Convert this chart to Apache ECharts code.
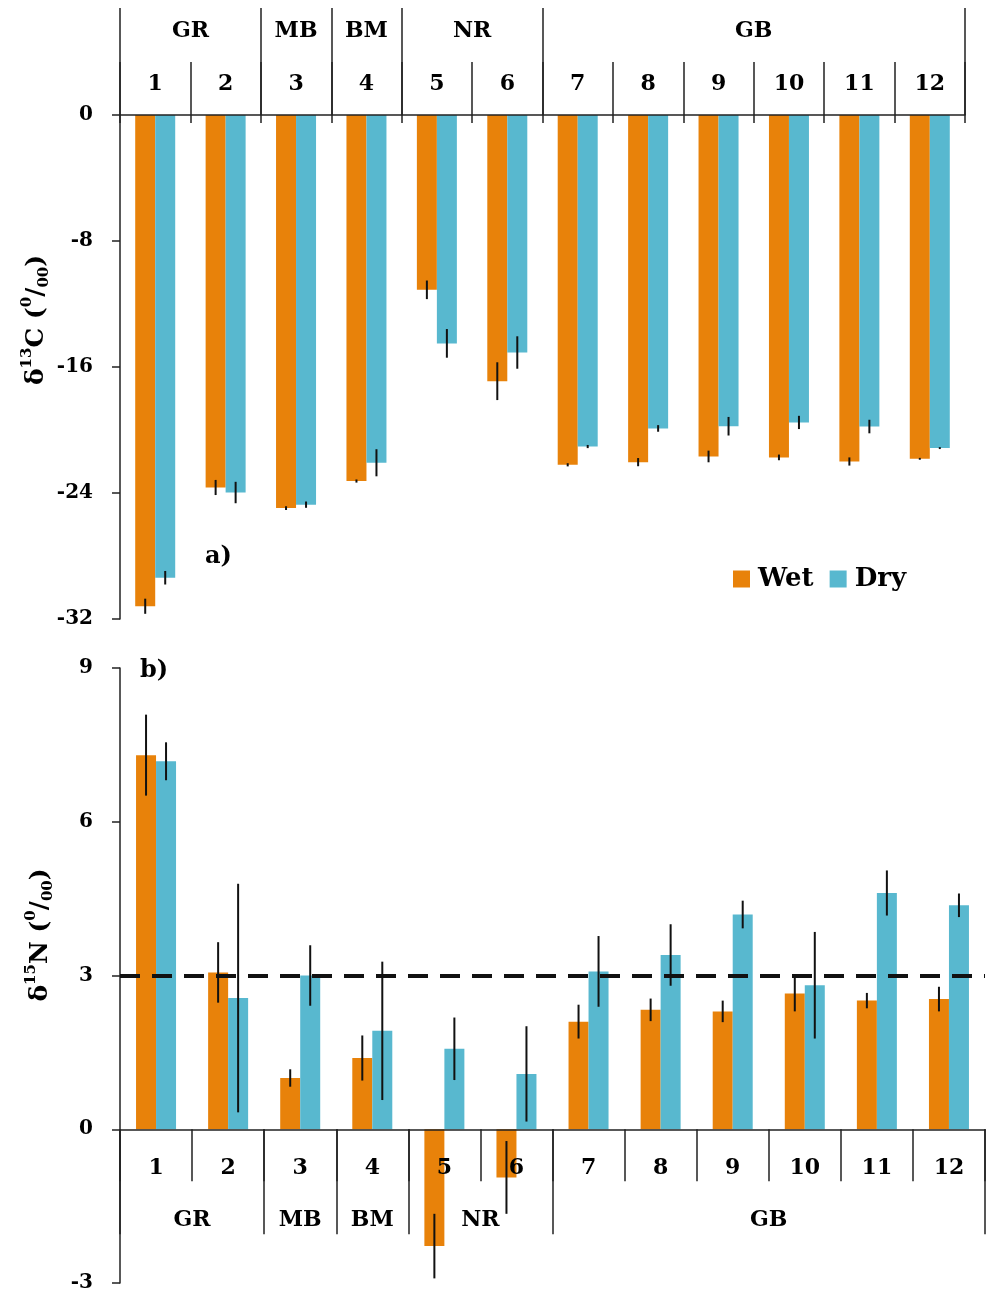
<!DOCTYPE html>
<html>
<head>
<meta charset="utf-8">
<script src="https://cdn.jsdelivr.net/npm/echarts@6/dist/echarts.min.js"></script>
<style>html,body{margin:0;padding:0;background:#fff}#c{width:993px;height:1299px}</style>
</head>
<body>
<div id="c"></div>
<script>
// ---- data ----
const sites = ['1','2','3','4','5','6','7','8','9','10','11','12'];
const groups = ['GR','MB','BM','NR','GB'];
const groupSpans = [2,1,1,2,6];

const c13Wet    = [-31.19,-23.65,-24.96,-23.24,-11.10,-16.90,-22.21,-22.04,-21.68,-21.74,-22.00,-21.83];
const c13WetErr = [0.48,0.48,0.12,0.10,0.59,1.20,0.10,0.26,0.37,0.18,0.26,0.06];
const c13Dry    = [-29.38,-23.97,-24.74,-22.08,-14.50,-15.08,-21.05,-19.90,-19.76,-19.52,-19.78,-21.15];
const c13DryErr = [0.43,0.68,0.20,0.86,0.91,1.03,0.10,0.21,0.59,0.42,0.43,0.06];

const n15Wet    = [7.30,3.06,1.00,1.39,-2.28,-0.94,2.10,2.33,2.30,2.65,2.51,2.54];
const n15WetErr = [0.79,0.59,0.17,0.44,0.63,0.71,0.33,0.22,0.21,0.35,0.15,0.24];
const n15Dry    = [7.18,2.56,3.00,1.92,1.57,1.08,3.08,3.40,4.19,2.81,4.61,4.37];
const n15DryErr = [0.37,2.23,0.59,1.35,0.61,0.93,0.69,0.60,0.27,1.04,0.44,0.23];

const n15RefLine = 3;
const c13Axis = {min:-32, max:0, interval:8};
const n15Axis = {min:-3, max:9, interval:3};

// ---- derived ----
const groupBounds = [0];
groupSpans.forEach(s => groupBounds.push(groupBounds[groupBounds.length-1] + s));
const groupCenters = groupSpans.map((s,i) => groupBounds[i] + s/2);

const ORANGE = '#E8820A', BLUE = '#58B8CF', INK = '#222';
const FONT = 'DejaVu Serif';
const BAR_W = 20;

const grid2 = {left:120, top:668, width:865, height:615};
// place bottom x axes on the zero line of the N15 axis
const zeroOffset = -grid2.height * (0 - n15Axis.min) / (n15Axis.max - n15Axis.min);

function errRows(vals, errs){ return vals.map((v,i)=>[i, v, errs[i]]); }
function errSeries(name, vals, errs, xi, yi, side){
  return {
    type:'custom', name: name + ' err', xAxisIndex: xi, yAxisIndex: yi, z: 5,
    encode:{x:0, y:1}, silent:true,
    data: errRows(vals, errs),
    renderItem(params, api){
      const i = api.value(0), v = api.value(1), e = api.value(2);
      const lo = api.coord([i, v - e]), hi = api.coord([i, v + e]);
      const x = lo[0] + side * BAR_W / 2;
      return {type:'line', shape:{x1:x, y1:lo[1], x2:x, y2:hi[1]},
              style:{stroke:'#111', lineWidth:2}};
    }
  };
}

const lbl = (size) => ({fontFamily:FONT, fontWeight:'bold', fontSize:size, color:'#000'});
const axisLn = {show:true, lineStyle:{color:INK, width:1.5}};
const tickLs = {color:INK, width:1.5};

function titleRich(sup){
  return {
    type:'text', rotation: Math.PI/2,
    style:{
      text: '{m|δ}{s|' + sup[0] + '}{m|' + sup[1] + ' (}{s|0}{m|/}{b|00}{m|)}',
      align:'center', verticalAlign:'middle', textAlign:'center', textVerticalAlign:'middle',
      rich:{
        m:{fontFamily:FONT, fontWeight:'bold', fontSize:25, lineHeight:32, fill:'#000', color:'#000'},
        s:{fontFamily:FONT, fontWeight:'bold', fontSize:15, lineHeight:15, verticalAlign:'top', fill:'#000', color:'#000'},
        b:{fontFamily:FONT, fontWeight:'bold', fontSize:15, lineHeight:15, verticalAlign:'bottom', fill:'#000', color:'#000'}
      }
    }
  };
}

const chart = echarts.init(document.getElementById('c'), null, {renderer:'canvas'});
const option = {
  animation:false,
  backgroundColor:'#fff',
  grid:[
    Object.assign({left:120, top:115, width:845, height:504}, {outerBoundsMode:'none', containLabel:false}),
    Object.assign({}, grid2, {outerBoundsMode:'none', containLabel:false})
  ],
  legend:{
    data:['Wet','Dry'], left:728, top:561, icon:'rect',
    itemWidth:17, itemHeight:17, itemGap:16,
    textStyle:{fontFamily:FONT, fontWeight:'bold', fontSize:26, color:'#000', padding:[0,0,0,3]}
  },
  xAxis:[
    // 0: top sites
    {type:'category', gridIndex:0, position:'top', data:sites, z:10,
     axisLine:axisLn,
     axisTick:{show:true, interval:0, length:53, lineStyle:tickLs},
     axisLabel:Object.assign({interval:0, margin:20}, lbl(22))},
    // 1: top inner tick stubs
    {type:'category', gridIndex:0, position:'top', data:sites,
     axisLine:{show:false}, axisLabel:{show:false},
     axisTick:{show:true, inside:true, interval:0, length:8, lineStyle:tickLs}},
    // 2: top groups
    {type:'value', gridIndex:0, position:'top', min:0, max:sites.length,
     axisLine:{show:false}, splitLine:{show:false},
     axisTick:{show:true, customValues:groupBounds, length:107, lineStyle:tickLs},
     axisLabel:Object.assign({customValues:groupCenters, margin:73,
        formatter:(v)=>groups[groupCenters.indexOf(v)] || ''}, lbl(22))},
    // 3: bottom sites
    {type:'category', gridIndex:1, position:'bottom', data:sites, z:10, offset:zeroOffset,
     axisLine:Object.assign({onZero:false}, axisLn),
     axisTick:{show:true, interval:0, length:52, lineStyle:tickLs},
     axisLabel:Object.assign({interval:0, margin:28}, lbl(22))},
    // 4: bottom groups
    {type:'value', gridIndex:1, position:'bottom', min:0, max:sites.length, offset:zeroOffset,
     axisLine:{show:false, onZero:false}, splitLine:{show:false},
     axisTick:{show:true, customValues:groupBounds, length:105, lineStyle:tickLs},
     axisLabel:Object.assign({customValues:groupCenters, margin:80,
        formatter:(v)=>groups[groupCenters.indexOf(v)] || ''}, lbl(22))}
  ],
  yAxis:[
    {type:'value', gridIndex:0, min:c13Axis.min, max:c13Axis.max, interval:c13Axis.interval,
     axisLine:Object.assign({onZero:false}, axisLn), splitLine:{show:false},
     axisTick:{show:true, length:8, lineStyle:tickLs},
     axisLabel:Object.assign({margin:27}, lbl(20))},
    {type:'value', gridIndex:1, min:n15Axis.min, max:n15Axis.max, interval:n15Axis.interval,
     axisLine:Object.assign({onZero:false}, axisLn), splitLine:{show:false},
     axisTick:{show:true, length:8, lineStyle:tickLs},
     axisLabel:Object.assign({margin:27}, lbl(20))}
  ],
  series:[
    {type:'bar', name:'Wet', xAxisIndex:0, yAxisIndex:0, data:c13Wet, barWidth:BAR_W, barGap:'0%', itemStyle:{color:ORANGE}},
    {type:'bar', name:'Dry', xAxisIndex:0, yAxisIndex:0, data:c13Dry, barWidth:BAR_W, barGap:'0%', itemStyle:{color:BLUE}},
    errSeries('Wet', c13Wet, c13WetErr, 0, 0, -1),
    errSeries('Dry', c13Dry, c13DryErr, 0, 0, 1),
    {type:'bar', name:'Wet', xAxisIndex:3, yAxisIndex:1, data:n15Wet, barWidth:BAR_W, barGap:'0%', itemStyle:{color:ORANGE},
     markLine:{silent:true, symbol:'none', label:{show:false}, z:6,
       lineStyle:{color:'#111', width:4, type:[20,12]}, data:[{yAxis:n15RefLine}]}},
    {type:'bar', name:'Dry', xAxisIndex:3, yAxisIndex:1, data:n15Dry, barWidth:BAR_W, barGap:'0%', itemStyle:{color:BLUE}},
    errSeries('Wet', n15Wet, n15WetErr, 3, 1, -1),
    errSeries('Dry', n15Dry, n15DryErr, 3, 1, 1)
  ],
  graphic:[
    Object.assign(titleRich(['13','C']), {x:36, y:320}),
    Object.assign(titleRich(['15','N']), {x:40, y:935}),
    {type:'text', x:205, y:557, style:{text:'a)', font:'bold 24px "DejaVu Serif"', fill:'#000', verticalAlign:'middle', textVerticalAlign:'middle'}},
    {type:'text', x:140, y:671, style:{text:'b)', font:'bold 24px "DejaVu Serif"', fill:'#000', verticalAlign:'middle', textVerticalAlign:'middle'}}
  ]
};
chart.setOption(option);
</script>
</body>
</html>
